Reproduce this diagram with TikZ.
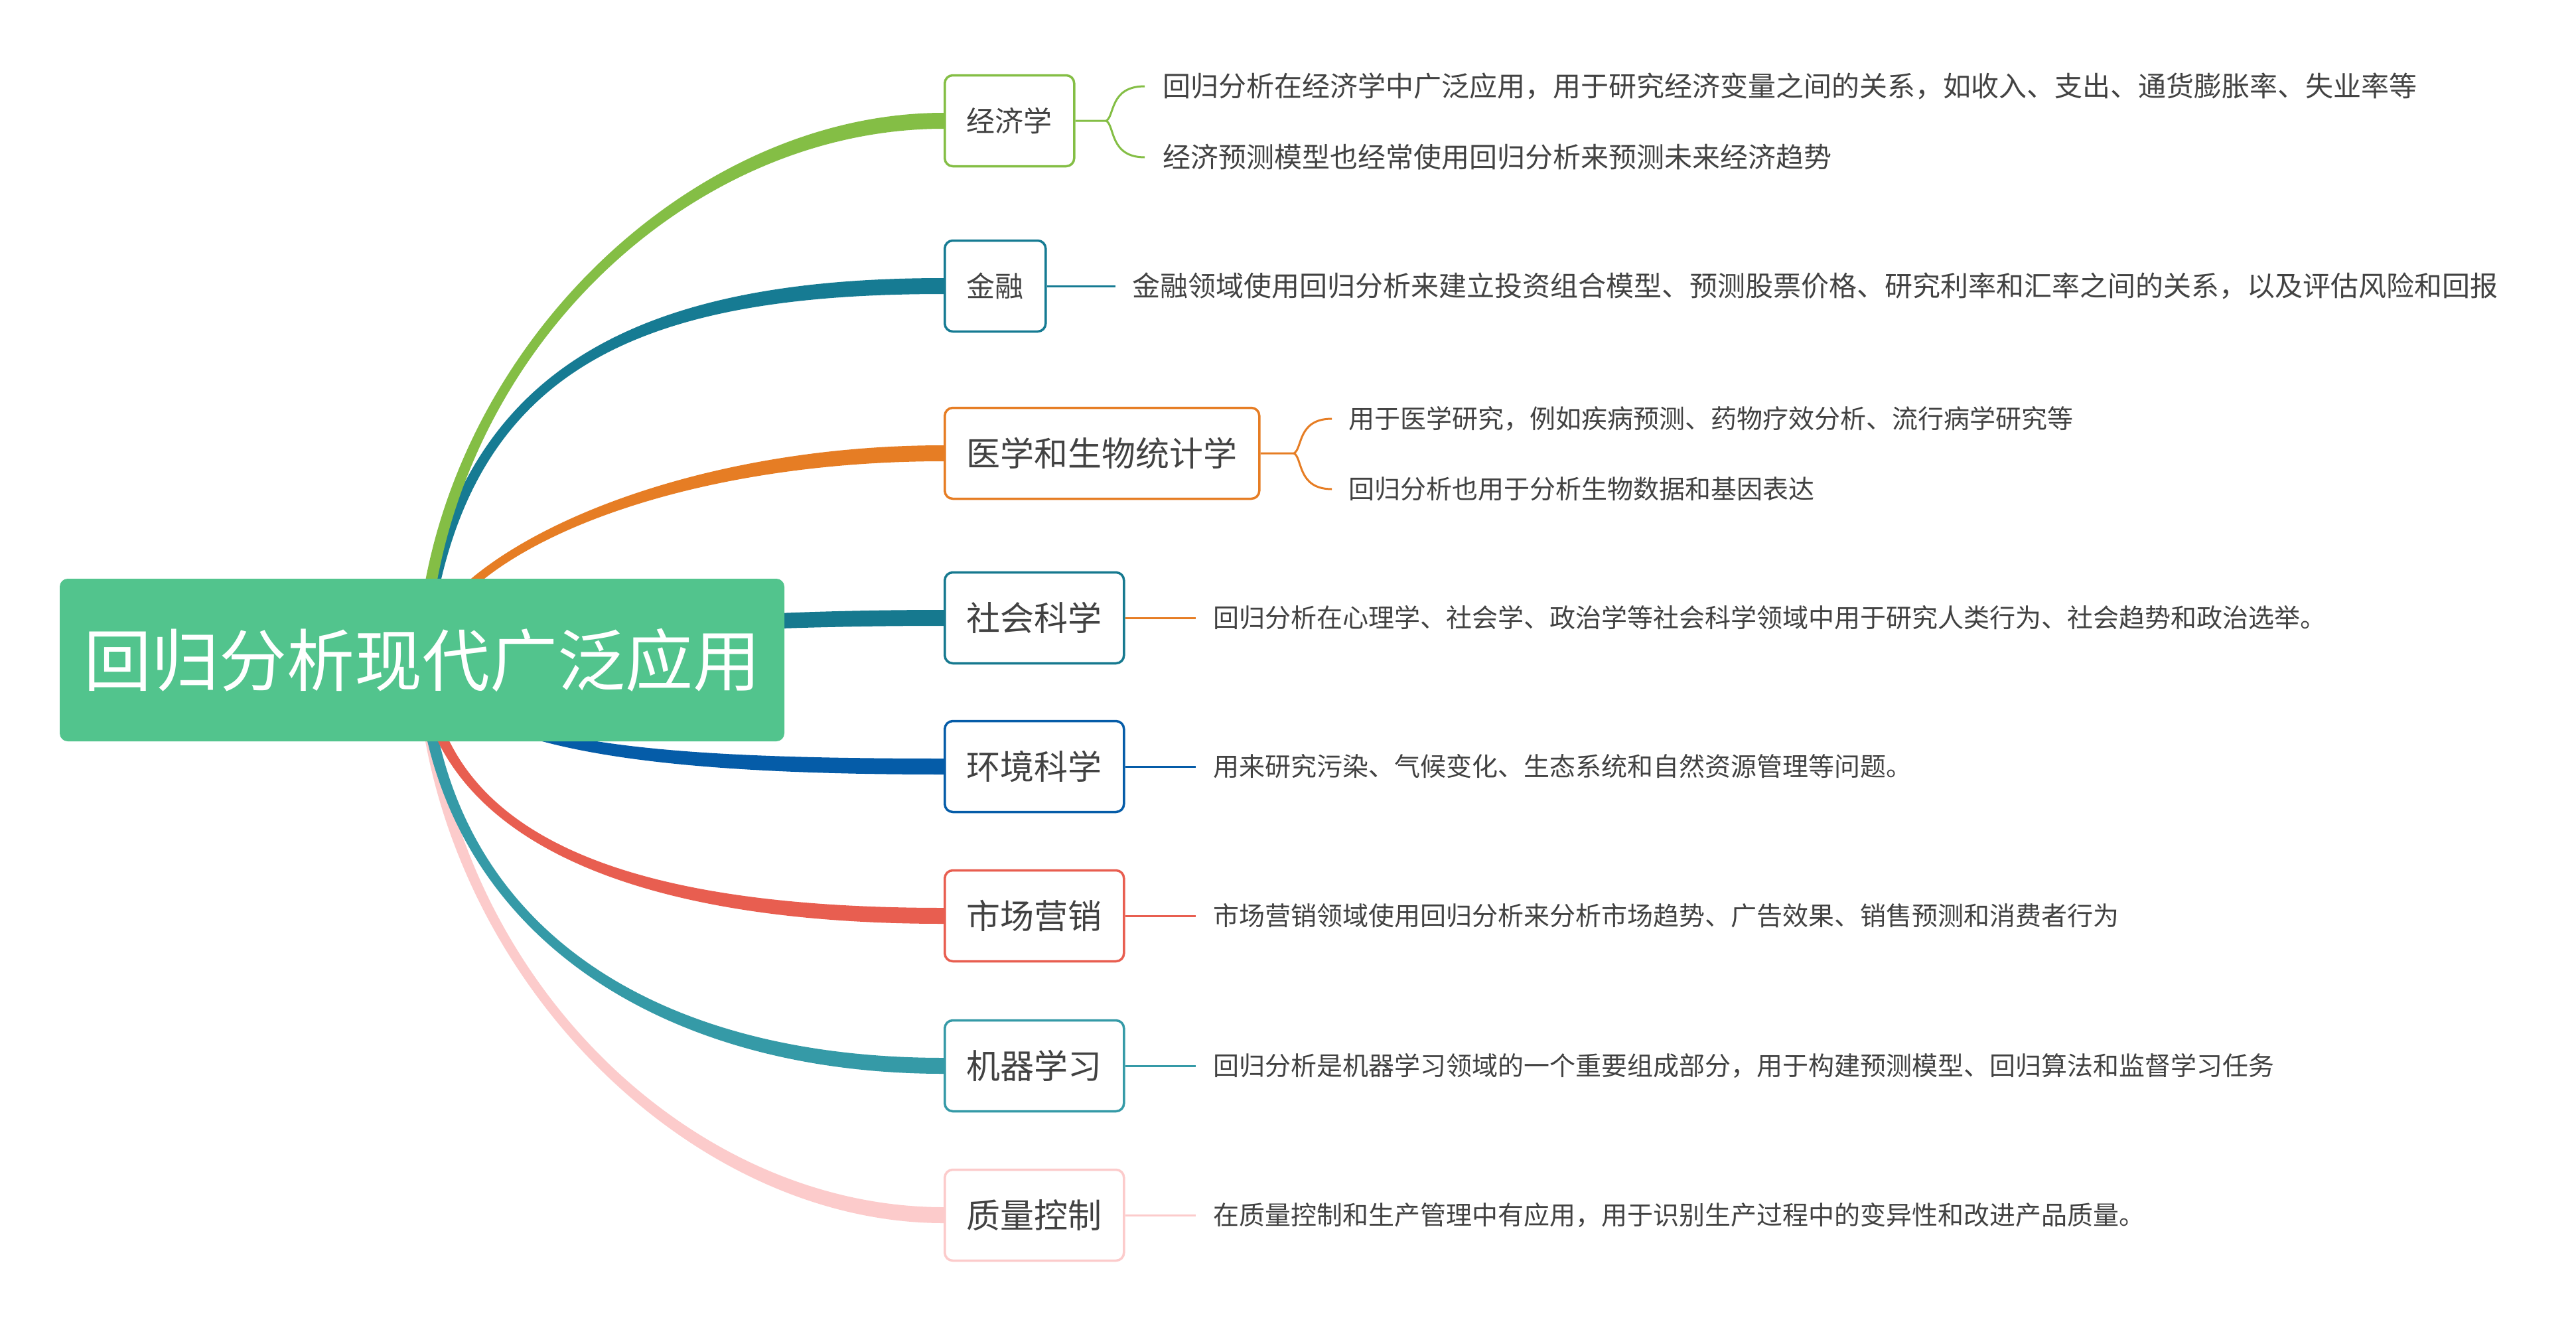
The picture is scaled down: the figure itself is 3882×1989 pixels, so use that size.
\documentclass[tikz,border=0pt]{standalone}
\usepackage{fontspec}
\newfontfamily\cjk{Noto Sans CJK SC}
\usetikzlibrary{calc}
\definecolor{rootG}{HTML}{52C48D}
\definecolor{ecoG}{HTML}{84BE45}
\definecolor{finT}{HTML}{167B93}
\definecolor{medO}{HTML}{E67D24}
\definecolor{socT}{HTML}{16798F}
\definecolor{envB}{HTML}{055CA8}
\definecolor{mktR}{HTML}{E85E50}
\definecolor{mlT}{HTML}{359AA7}
\definecolor{qcP}{HTML}{FCCBCB}
\definecolor{txtgray}{HTML}{424242}
\pgfdeclarelayer{bg}
\pgfsetlayers{bg,main}
\tikzset{
  topic/.style={draw=#1, line width=3.5pt, rounded corners=12pt, fill=white,
    minimum height=137pt, inner xsep=33pt, inner ysep=0pt, anchor=west, text=txtgray},
  bigtopic/.style={topic=#1, font=\cjk\fontsize{51pt}{51pt}\selectfont},
  smalltopic/.style={topic=#1, font=\cjk\fontsize{43pt}{43pt}\selectfont},
  leaf/.style={anchor=west, inner sep=0pt, text=txtgray, font=\cjk\fontsize{39pt}{39pt}\selectfont},
  bigleaf/.style={leaf, font=\cjk\fontsize{42pt}{42pt}\selectfont},
  leafline/.style={line width=3pt, draw=#1},
}
\newcommand\mybranch[5]{%
  \fill[#1] ($(root.center)+#5$) .. controls ($#2+#5$) and ($#3+(0,-12)$) .. ($(#4.west)+(0,-12)$)
    -- ($(#4.west)+(0,12)$) .. controls ($#3+(0,12)$) and ($#2-#5$) .. ($(root.center)-#5$) -- cycle;}
\begin{document}
\begin{tikzpicture}[x=1pt,y=-1pt]
\begin{pgfonlayer}{bg}
\fill[white] (0,0) rectangle (3882,1989);
\end{pgfonlayer}
\useasboundingbox (0,0) rectangle (3882,1989);

% root
\node[fill=rootG, rounded corners=12pt, minimum width=1092pt, minimum height=245pt, inner sep=0pt,
  text=white, font=\cjk\fontsize{102pt}{102pt}\selectfont] (root) at (636,994.5) {回归分析现代广泛应用};

% topics
\node[smalltopic=ecoG] (eco) at (1422,182) {经济学};
\node[smalltopic=finT] (fin) at (1422,431) {金融};
\node[bigtopic=medO] (med) at (1422,683) {医学和生物统计学};
\node[bigtopic=socT] (soc) at (1422,931) {社会科学};
\node[bigtopic=envB] (env) at (1422,1155) {环境科学};
\node[bigtopic=mktR] (mkt) at (1422,1380) {市场营销};
\node[bigtopic=mlT] (ml) at (1422,1606) {机器学习};
\node[bigtopic=qcP] (qc) at (1422,1831) {质量控制};

% leaves
\node[bigleaf] (eco1) at (1752,130) {回归分析在经济学中广泛应用，用于研究经济变量之间的关系，如收入、支出、通货膨胀率、失业率等};
\node[bigleaf] (eco2) at (1752,237) {经济预测模型也经常使用回归分析来预测未来经济趋势};
\node[bigleaf] (fin1) at (1706,431) {金融领域使用回归分析来建立投资组合模型、预测股票价格、研究利率和汇率之间的关系，以及评估风险和回报};
\node[leaf] (med1) at (2032,631) {用于医学研究，例如疾病预测、药物疗效分析、流行病学研究等};
\node[leaf] (med2) at (2032,737) {回归分析也用于分析生物数据和基因表达};
\node[leaf] (soc1) at (1828,931) {回归分析在心理学、社会学、政治学等社会科学领域中用于研究人类行为、社会趋势和政治选举。};
\node[leaf] (env1) at (1828,1155) {用来研究污染、气候变化、生态系统和自然资源管理等问题。};
\node[leaf] (mkt1) at (1828,1380) {市场营销领域使用回归分析来分析市场趋势、广告效果、销售预测和消费者行为};
\node[leaf] (ml1) at (1828,1606) {回归分析是机器学习领域的一个重要组成部分，用于构建预测模型、回归算法和监督学习任务};
\node[leaf] (qc1) at (1828,1831) {在质量控制和生产管理中有应用，用于识别生产过程中的变异性和改进产品质量。};

% branches (behind the nodes)
\begin{pgfonlayer}{bg}
\mybranch{qcP}{(656,1454)}{(1029,1831)}{qc}{(9,0)}
\mybranch{mlT}{(656,1392)}{(980,1606)}{ml}{(9,0)}
\mybranch{mktR}{(656,1264)}{(950,1380)}{mkt}{(9,0)}
\mybranch{envB}{(700,1120)}{(950,1155)}{env}{(8,-4)}
\mybranch{socT}{(760,960)}{(1050,931)}{soc}{(0,-9)}
\mybranch{medO}{(660,840)}{(1000,683)}{med}{(-9,0)}
\mybranch{finT}{(680,560)}{(950,431)}{fin}{(-9,0)}
\mybranch{ecoG}{(656,547)}{(1029,182)}{eco}{(-9,0)}
\end{pgfonlayer}

% leaf connectors
\coordinate (ecoJ) at (1667,182);
\draw[leafline=ecoG] (eco.east) -- (ecoJ) .. controls (1680,175) and (1672,130) .. ([xshift=-27pt]eco1.west);
\draw[leafline=ecoG] (ecoJ) .. controls (1680,189) and (1672,237) .. ([xshift=-27pt]eco2.west);
\draw[leafline=finT] (fin.east) -- ([xshift=-25pt]fin1.west);
\coordinate (medJ) at (1950,683);
\draw[leafline=medO] (med.east) -- (medJ) .. controls (1963,676) and (1955,631) .. ([xshift=-25pt]med1.west);
\draw[leafline=medO] (medJ) .. controls (1963,690) and (1955,737) .. ([xshift=-25pt]med2.west);
\draw[leafline=medO] (soc.east) -- ([xshift=-26pt]soc1.west);
\draw[leafline=envB] (env.east) -- ([xshift=-26pt]env1.west);
\draw[leafline=mktR] (mkt.east) -- ([xshift=-26pt]mkt1.west);
\draw[leafline=mlT] (ml.east) -- ([xshift=-26pt]ml1.west);
\draw[leafline=qcP] (qc.east) -- ([xshift=-26pt]qc1.west);
\end{tikzpicture}
\end{document}
